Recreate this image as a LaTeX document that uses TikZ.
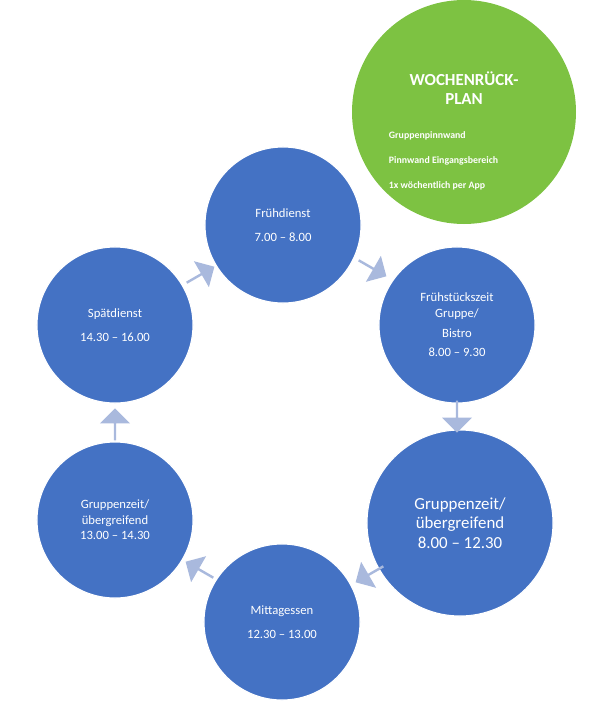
\documentclass[tikz,border=0pt]{standalone}
\usepackage{fontspec}
\setmainfont{Carlito}
\usetikzlibrary{shapes.arrows}
\definecolor{StepBlue}{HTML}{4472C4}
\definecolor{StepGreen}{HTML}{7DC242}
\definecolor{ArrowBlue}{HTML}{A9B9DD}
\begin{document}
\begin{tikzpicture}[x=0.025cm,y=-0.025cm,font=\small]

	\tikzset{
		stepCircle/.style={
			circle,
			fill=StepBlue,
			draw=white,
			thick,
			text=white,
			align=center,
			inner sep=0pt,
			minimum size=#1*0.05cm,
		},
		planCircle/.style={
			circle,
			fill=StepGreen,
			text=white,
			align=left,
			inner sep=0pt,
			minimum size=224*0.025cm,
		},
		stepArrow/.style={
			single arrow,
			fill=ArrowBlue,
			minimum height=0.8cm,
			minimum width=0.75cm,
			single arrow head extend=0.08cm,
			inner sep=0pt,
			rotate=#1,
		},
	}

	\useasboundingbox (0,0) rectangle (600,724);

	% Plan
	\node[planCircle] (plan) at (464,112) {};
	\node[text=white,font=\large\bfseries,align=center] (planTitle) at (464,88) {WOCHENRÜCK-\\PLAN};
	\node[text=white,font=\scriptsize\bfseries,anchor=west] (planA) at (384,136) {Gruppenpinnwand};
	\node[text=white,font=\scriptsize\bfseries,anchor=west] (planB) at (384,161) {Pinnwand Eingangsbereich};
	\node[text=white,font=\scriptsize\bfseries,anchor=west] (planC) at (384,186) {1x wöchentlich per App};

	% Steps
	\node[stepCircle=78] (early) at (283,225) {Frühdienst\\[6pt]7.00 -- 8.00};
	\node[stepCircle=78] (breakfast) at (457,325) {Frühstückszeit\\Gruppe/\\[3pt]Bistro\\[3pt]8.00 -- 9.30};
	\node[stepCircle=93,font=\large] (groupRight) at (460,523) {Gruppenzeit/\\übergreifend\\8.00 -- 12.30};
	\node[stepCircle=78] (lunch) at (282,622) {Mittagessen\\[6pt]12.30 -- 13.00};
	\node[stepCircle=78] (groupLeft) at (115,520) {Gruppenzeit/\\übergreifend\\13.00 -- 14.30};
	\node[stepCircle=78] (late) at (115,325) {Spätdienst\\[6pt]14.30 -- 16.00};

	% Arrows
	\node[stepArrow=-30] (a1) at (372,268) {};
	\node[stepArrow=-90] (a2) at (457,416) {};
	\node[stepArrow=-150] (a3) at (370,574) {};
	\node[stepArrow=150] (a4) at (200,570) {};
	\node[stepArrow=90] (a5) at (115,425) {};
	\node[stepArrow=30] (a6) at (200,275) {};

\end{tikzpicture}
\end{document}
